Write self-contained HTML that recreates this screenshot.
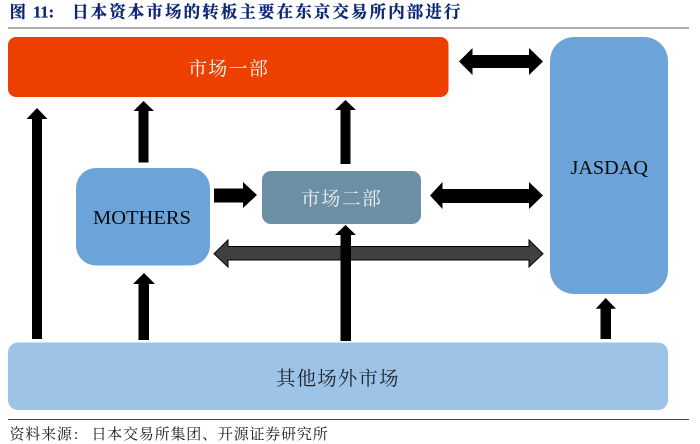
<!DOCTYPE html>
<html lang="zh">
<head>
<meta charset="utf-8">
<style>
html,body{margin:0;padding:0;background:#fff;width:700px;height:444px;overflow:hidden}
svg{display:block}
.cjk{font-family:"Liberation Serif","Noto Serif CJK SC",serif}
</style>
</head>
<body>
<svg width="700" height="444" viewBox="0 0 700 444" xmlns="http://www.w3.org/2000/svg">
<rect width="700" height="444" fill="#fff"/>
<!-- title -->
<g class="cjk" font-weight="700" fill="#0a2674" stroke="#0a2674" stroke-width="0.25">
<text x="9.5" y="17.5" font-size="16.5">图</text>
<text x="33" y="17.5" font-size="16.5" font-family="Liberation Serif">11:</text>
<text x="72" y="17.5" font-size="16.5" letter-spacing="2.1">日本资本市场的转板主要在东京交易所内部进行</text>
</g>
<rect x="8" y="27.5" width="681" height="1" fill="#5a5a5a"/>
<!-- boxes -->
<rect x="8" y="37" width="440.5" height="60" rx="8" fill="#ec3f00"/>
<rect x="550" y="37" width="118" height="257" rx="24" fill="#6ca4da"/>
<rect x="76" y="168" width="134" height="97.5" rx="20" fill="#6ca4da"/>
<rect x="262" y="171" width="159" height="53" rx="9" fill="#6b8fa5"/>
<rect x="8" y="342.5" width="660" height="67.5" rx="10" fill="#9dc3e6"/>
<!-- gray double arrow -->
<polygon points="214,253.7 228,240 228,246.5 529,246.5 529,240 543,253.7 529,267 529,260 228,260 228,267" fill="#404040" stroke="#000" stroke-width="1"/>
<!-- black up arrows -->
<g fill="#000">
<polygon points="37,108 47.5,119 42,119 42,339 32,339 32,119 26.5,119"/>
<polygon points="143.5,101 154,111 148.5,111 148.5,162.5 138.5,162.5 138.5,111 133.5,111"/>
<polygon points="345.5,100 356,110 350.5,110 350.5,164 340.5,164 340.5,110 335,110"/>
<polygon points="345.5,225 356,235 351,235 351,341 340.5,341 340.5,235 335,235"/>
<polygon points="144,273 155,284 149,284 149,340 138.5,340 138.5,284 133,284"/>
<polygon points="605.7,298 616,308.7 611,308.7 611,339 600.5,339 600.5,308.7 595.7,308.7"/>
<!-- right arrow -->
<polygon points="214,188.5 243,188.5 243,182 257,195 243,208 243,202.5 214,202.5"/>
<!-- double arrows -->
<polygon points="459,61.5 472.5,48 472.5,55 529,55 529,48 543,61.5 529,75 529,68 472.5,68 472.5,75"/>
<polygon points="430,195.5 442.5,182 442.5,189 529,189 529,182 543,195.5 529,209 529,203 442.5,203 442.5,209"/>
</g>
<!-- labels -->
<g class="cjk">
<text x="188" y="75" font-size="19" letter-spacing="1.3" fill="#fff">市场一部</text>
<text x="301" y="205" font-size="19" letter-spacing="1.3" fill="#eef2f5">市场二部</text>
<text x="276" y="385" font-size="19.5" letter-spacing="1.1" fill="#1c2430">其他场外市场</text>
<text x="9.5" y="439" font-size="15" letter-spacing="0.8" fill="#1a1a1a">资料来源</text>
<text x="74" y="439" font-size="15" fill="#1a1a1a">:</text>
<text x="91.5" y="439" font-size="15" letter-spacing="0.8" fill="#1a1a1a">日本交易所集团、开源证券研究所</text>
</g>
<g font-family="Liberation Serif" fill="#0a0a0a">
<text x="93" y="224" font-size="20.5">MOTHERS</text>
<text x="570.5" y="174" font-size="20.2">JASDAQ</text>
</g>
<rect x="8" y="419" width="681" height="1" fill="#444"/>
</svg>
</body>
</html>
